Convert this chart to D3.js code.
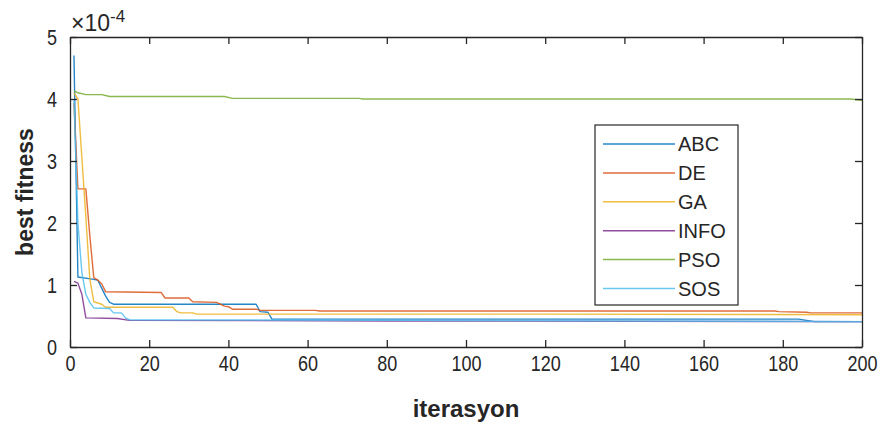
<!DOCTYPE html>
<html>
<head>
<meta charset="utf-8">
<script src="https://cdn.jsdelivr.net/npm/d3@7"></script>
<style>
  body { margin: 0; background: #fff; }
  svg { display: block; }
  text { font-family: "Liberation Sans", Arial, Helvetica, sans-serif; fill: #262626; }
</style>
</head>
<body>
<svg id="chart" width="884" height="425"></svg>
<script>
// ---- data (values in units of 1e-4; [iteration, best fitness]) ----
const seriesNames = ["ABC", "DE", "GA", "INFO", "PSO", "SOS"];
const seriesColors = ["#0072BD", "#D95319", "#EDB120", "#7E2F8E", "#77AC30", "#4DBEEE"];

const ABC = [[1,4.7],[2,1.13],[6,1.09],[7,1.08],[8,0.95],[9,0.82],[10,0.72],[11,0.69],[47,0.69],[48,0.57],[50,0.56],[51,0.45],[184,0.45],[188,0.41],[200,0.41]];
const DE = [[1,3.93],[2,2.55],[4,2.55],[5,1.8],[6,1.12],[7,1.08],[8,1.02],[9,0.89],[23,0.88],[24,0.79],[30,0.79],[31,0.73],[37,0.72],[39,0.66],[40,0.65],[41,0.61],[47,0.61],[48,0.59],[62,0.59],[63,0.58],[178,0.58],[179,0.57],[186,0.56],[187,0.55],[200,0.55]];
const GA = [[1,4.1],[2,4.0],[3,3.05],[4,2.1],[5,1.1],[6,0.73],[8,0.69],[9,0.64],[26,0.64],[27,0.57],[28,0.55],[31,0.55],[32,0.53],[120,0.53],[200,0.52]];
const INFO = [[1,1.06],[2,1.03],[3,0.85],[4,0.47],[12,0.46],[15,0.43],[80,0.42],[200,0.41]];
const PSO = [[1,4.13],[2,4.1],[4,4.07],[8,4.07],[10,4.04],[39,4.04],[41,4.01],[73,4.01],[74,4.0],[197,4.0],[200,3.98]];
const SOS = [[1,4.0],[2,2.0],[3,1.2],[4,0.85],[5,0.72],[6,0.63],[10,0.62],[11,0.55],[13,0.55],[14,0.47],[15,0.44],[80,0.43],[200,0.41]];
const allSeries = [ABC, DE, GA, INFO, PSO, SOS];

const xTicks = [0, 20, 40, 60, 80, 100, 120, 140, 160, 180, 200];
const yTicks = [0, 1, 2, 3, 4, 5];
const xLabel = "iterasyon";
const yLabel = "best fitness";

// ---- layout ----
const svg = d3.select("#chart");
const L = 70, R = 862, T = 37, B = 347;
const x = d3.scaleLinear().domain([0, 200]).range([L, R]);
const y = d3.scaleLinear().domain([0, 5]).range([B, T]);
const ink = "#262626";
const tickFont = 22;
const squeeze = 0.82;   // condensed look of the tick labels

const line = d3.line().x(d => x(d[0])).y(d => y(d[1]));
svg.append("g").attr("class", "lines")
  .selectAll("path").data(allSeries).join("path")
  .attr("d", line)
  .attr("fill", "none")
  .attr("stroke", (d, i) => seriesColors[i])
  .attr("stroke-width", 1.4)
  .attr("stroke-opacity", 0.85)
  .attr("stroke-linejoin", "round");

function styleAxis(g) {
  g.selectAll("path.domain").attr("stroke", ink).attr("stroke-width", 1.3);
  g.selectAll(".tick line").attr("stroke", ink).attr("stroke-width", 1.3);
  g.selectAll(".tick text").attr("fill", ink).style("font-size", tickFont + "px");
}

const gx = svg.append("g").attr("transform", `translate(0,${B})`)
  .call(d3.axisBottom(x).tickValues(xTicks).tickSizeInner(-7).tickSizeOuter(0).tickPadding(8))
  .call(styleAxis);
gx.selectAll(".tick text").attr("transform", `scale(${squeeze},1)`);

svg.append("g").attr("transform", `translate(0,${T})`)
  .call(d3.axisTop(x).tickValues(xTicks).tickSizeInner(-7).tickSizeOuter(0).tickFormat(""))
  .call(styleAxis);

const gy = svg.append("g").attr("transform", `translate(${L},0)`)
  .call(d3.axisLeft(y).tickValues(yTicks).tickSizeInner(-7).tickSizeOuter(0).tickPadding(13).tickFormat(d3.format("d")))
  .call(styleAxis);
gy.selectAll(".tick text").attr("x", -13 / squeeze).attr("transform", `scale(${squeeze},1)`);

svg.append("g").attr("transform", `translate(${R},0)`)
  .call(d3.axisRight(y).tickValues(yTicks).tickSizeInner(-7).tickSizeOuter(0).tickFormat(""))
  .call(styleAxis);

// exponent label
const expo = svg.append("text").attr("x", L + 1).attr("y", 31)
  .style("font-size", "23px").attr("fill", "#404040");
expo.append("tspan").text("\u00d710");
expo.append("tspan").attr("dy", -9).style("font-size", "17px").text("-4");

// axis titles
svg.append("text").attr("x", 466).attr("y", 417)
  .attr("text-anchor", "middle").style("font-size", "24px").style("font-weight", "bold")
  .text(xLabel);
svg.append("text").attr("transform", `translate(33,${(T + B) / 2}) rotate(-90)`)
  .attr("text-anchor", "middle").style("font-size", "23px").style("font-weight", "bold")
  .text(yLabel);

// legend
const lg = svg.append("g").attr("class", "legend");
lg.append("rect").attr("x", 595).attr("y", 125).attr("width", 143).attr("height", 180)
  .attr("fill", "#fff").attr("stroke", ink).attr("stroke-width", 1.2);
const rowY = d3.scalePoint().domain(seriesNames).range([144, 288.5]);
const items = lg.selectAll("g.item").data(seriesNames).join("g").attr("class", "item");
items.append("line")
  .attr("x1", 603).attr("x2", 675)
  .attr("y1", d => rowY(d)).attr("y2", d => rowY(d))
  .attr("stroke", (d, i) => seriesColors[i]).attr("stroke-width", 1.5).attr("stroke-opacity", 0.85);
items.append("text")
  .attr("x", 678).attr("y", d => rowY(d)).attr("dy", "0.36em")
  .style("font-size", "20px")
  .text(d => d);
</script>
</body>
</html>
